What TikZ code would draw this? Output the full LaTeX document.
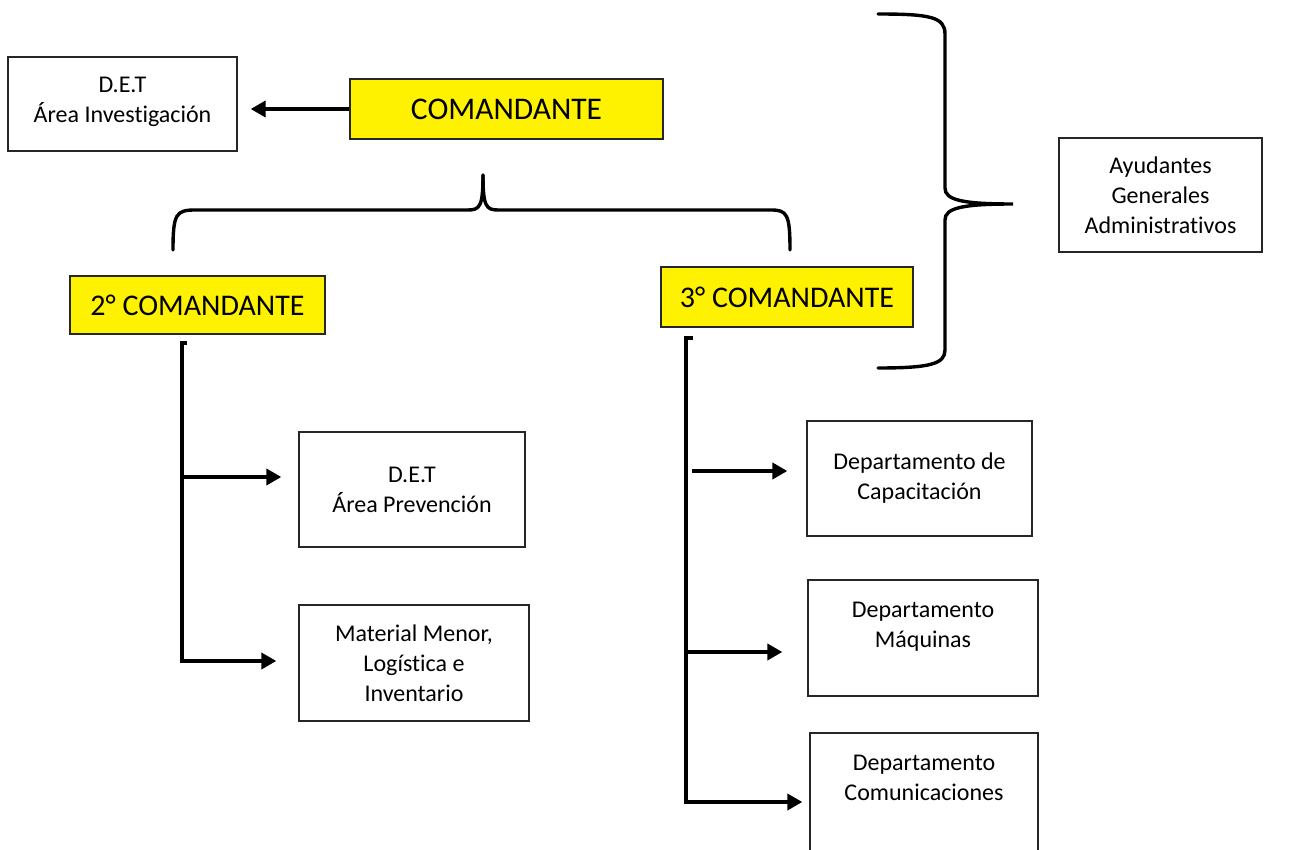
\documentclass[tikz,border=0pt]{standalone}
\usepackage{fontspec}
\setmainfont{Carlito}[Ligatures=NoCommon]
\usetikzlibrary{arrows.meta}
\begin{document}
\begin{tikzpicture}[x=1pt,y=-1pt,
  box/.style={draw=black!85, line width=1.3pt, fill=white, align=center, inner sep=0pt,
    font=\fontsize{24}{30}\selectfont},
  ybox/.style={box, fill=yellow, font=\fontsize{30}{36}\selectfont},
  conn/.style={line width=4pt, line join=miter},
  arr/.style={conn, -{Triangle[length=15pt,width=16pt]}},
  brace/.style={line width=3.4pt, line cap=round}]
\fill[white] (0,0) rectangle (1293,850);
\useasboundingbox (0,0) rectangle (1293,850);
\clip (0,0) rectangle (1293,850);

% nodes
\node[box, minimum width=229pt, minimum height=94pt] (inv) at (122.5,104) {D.E.T\\Área Investigación\\[-22pt]\mbox{}};
\node[ybox, minimum width=313pt, minimum height=60pt, font=\fontsize{31.5}{36}\selectfont] (com) at (506.5,109) {COMANDANTE};
\node[ybox, minimum width=255pt, minimum height=58pt] (c2) at (197.5,305) {2° COMANDANTE};
\node[ybox, minimum width=252pt, minimum height=60pt] (c3) at (787,297) {3° COMANDANTE};
\node[box, minimum width=203pt, minimum height=114pt] (ayu) at (1160.5,195) {Ayudantes\\Generales\\Administrativos};
\node[box, minimum width=226pt, minimum height=115pt] (prev) at (412,489.5) {D.E.T\\Área Prevención};
\node[box, minimum width=230pt, minimum height=116pt] (mat) at (414,663) {Material Menor,\\Logística e\\Inventario};
\node[box, minimum width=225pt, minimum height=115pt] (cap) at (919.5,478.5) {Departamento de\\Capacitación};
\node[box, minimum width=230pt, minimum height=116pt] (maq) at (923,638) {Departamento\\Máquinas\\[-4pt]\mbox{}};
\node[box, minimum width=228pt, minimum height=120pt] (comu) at (924,793) {Departamento\\Comunicaciones\\\mbox{}};

% top arrow
\draw[arr, shorten >=13pt] (com.west) -- (com.west -| inv.east);

% brace under COMANDANTE
\coordinate (tb) at (483,175);
\coordinate (bl) at (173,250);
\coordinate (br) at (790,250);
\draw[brace] (bl) .. controls (173,214) and (176,210) .. (195,210) -- (468,210)
  .. controls (480,210) and (483,206) .. (tb);
\draw[brace] (tb) .. controls (483,206) and (486,210) .. (498,210) -- (771,210)
  .. controls (787,210) and (790,214) .. (br);

% big right brace
\coordinate (rbt) at (878,14);
\coordinate (rbtip) at (1013,204);
\coordinate (rbb) at (878,368);
\draw[brace] (rbt) .. controls (930,14) and (945,17) .. (945,34) -- (945,188)
  .. controls (945,200) and (962,204) .. (rbtip)
  .. controls (962,204) and (945,208) .. (945,220) -- (945,350)
  .. controls (945,364) and (930,368) .. (rbb);

% left bracket (2° COMANDANTE)
\coordinate (lt) at (182,343);
\coordinate (l1) at (184,477);
\coordinate (lb) at (182,661);
\draw[arr, shorten >=22pt] ([xshift=5pt]lt) -- (lt) -- (lb) -- (lb -| mat.west);
\draw[arr, shorten >=17pt] (l1) -- (l1 -| prev.west);

% right bracket (3° COMANDANTE)
\coordinate (rt) at (686,338);
\coordinate (r1) at (692,471);
\coordinate (r2) at (686,652);
\coordinate (rb) at (686,802);
\draw[arr, shorten >=7pt] ([xshift=7pt]rt) -- (rt) -- (rb) -- (rb -| comu.west);
\draw[arr, shorten >=19pt] (r1) -- (r1 -| cap.west);
\draw[arr, shorten >=25pt] (r2) -- (r2 -| maq.west);
\end{tikzpicture}
\end{document}
